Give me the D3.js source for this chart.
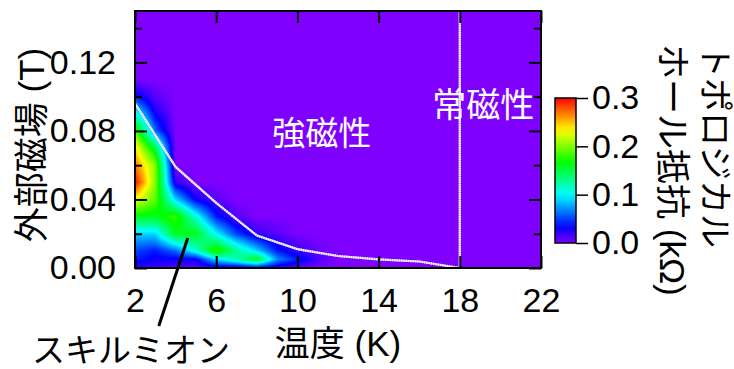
<!DOCTYPE html>
<html>
<head>
<meta charset="utf-8">
<script src="https://cdn.jsdelivr.net/npm/d3@7"></script>
<style>
  html, body { margin: 0; padding: 0; background: #fff; }
  svg text { font-family: "Liberation Sans", Arial, "Noto Sans CJK JP", sans-serif; fill: #000; }
</style>
</head>
<body>
<svg id="chart" width="734" height="369"></svg>
<script>
// temperature grid (K) and field grid (T) of the measured map
const temps = [2, 3, 4, 5, 6, 7, 8, 9, 10, 11, 12];
const fields = [0, 0.005, 0.01, 0.02, 0.03, 0.04, 0.05, 0.06, 0.07, 0.08, 0.09, 0.10, 0.11];
// topological Hall resistance (kOhm), one row per field, one column per temperature
const rhoTH = [
  [0.02, 0.02, 0.01, 0.01, 0.02, 0.02, 0.03, 0.02, 0.01, 0.00, 0],
  [0.04, 0.03, 0.03, 0.03, 0.09, 0.12, 0.16, 0.07, 0.04, 0.015, 0],
  [0.05, 0.04, 0.06, 0.11, 0.18, 0.13, 0.09, 0.04, 0.02, 0.005, 0],
  [0.09, 0.09, 0.16, 0.16, 0.10, 0.05, 0.02, 0.01, 0, 0, 0],
  [0.16, 0.16, 0.18, 0.11, 0.04, 0.01, 0, 0, 0, 0, 0],
  [0.23, 0.19, 0.09, 0.03, 0.01, 0, 0, 0, 0, 0, 0],
  [0.30, 0.20, 0.02, 0, 0, 0, 0, 0, 0, 0, 0],
  [0.27, 0.20, 0, 0, 0, 0, 0, 0, 0, 0, 0],
  [0.24, 0.15, 0, 0, 0, 0, 0, 0, 0, 0, 0],
  [0.19, 0.06, 0, 0, 0, 0, 0, 0, 0, 0, 0],
  [0.11, 0.03, 0, 0, 0, 0, 0, 0, 0, 0, 0],
  [0.04, 0.01, 0, 0, 0, 0, 0, 0, 0, 0, 0],
  [0, 0, 0, 0, 0, 0, 0, 0, 0, 0, 0]
];
// phase boundary (white dotted line)
const boundaryT = [2, 4, 6, 8, 10, 12, 14, 16, 18];
const boundaryH = [0.096, 0.059, 0.038, 0.019, 0.011, 0.007, 0.005, 0.0038, 0];
const curieT = 18;

const xTicks = [2, 6, 10, 14, 18, 22];
const yMajor = [0, 0.04, 0.08, 0.12];
const yMinor = [0.02, 0.06, 0.10, 0.14];
const cTicks = [0, 0.1, 0.2, 0.3];

const svg = d3.select('#chart');
const x = d3.scaleLinear().domain([2, 22]).range([135, 541]);
const y = d3.scaleLinear().domain([0, 0.15]).range([268, 11]);
const color = d3.scaleLinear().domain([0, 0.3])
  .range(['hsl(270,100%,50%)', 'hsl(0,100%,50%)'])
  .interpolate(d3.interpolateHslLong)
  .clamp(true);

// bilinear lookup in the grid
function valueAt(t, h) {
  if (t < temps[0] || t > temps[temps.length - 1]) return 0;
  if (h < fields[0] || h > fields[fields.length - 1]) return 0;
  const i = Math.min(d3.bisectRight(temps, t) - 1, temps.length - 2);
  const j = Math.min(d3.bisectRight(fields, h) - 1, fields.length - 2);
  const ft = (t - temps[i]) / (temps[i + 1] - temps[i]);
  const fh = (h - fields[j]) / (fields[j + 1] - fields[j]);
  const a = rhoTH[j][i], b = rhoTH[j][i + 1], c = rhoTH[j + 1][i], d = rhoTH[j + 1][i + 1];
  return (a * (1 - ft) + b * ft) * (1 - fh) + (c * (1 - ft) + d * ft) * fh;
}

const [px0, px1] = x.range();
const [py1, py0] = y.range();
const pw = px1 - px0, ph = py1 - py0;

const lut = d3.range(301).map(k => d3.rgb(color(k / 1000)));
const canvas = document.createElement('canvas');
canvas.width = pw; canvas.height = ph;
const ctx = canvas.getContext('2d');
const img = ctx.createImageData(pw, ph);
for (let r = 0; r < ph; r++) {
  const h = y.invert(py0 + r + 0.5);
  for (let c = 0; c < pw; c++) {
    const t = x.invert(px0 + c + 0.5);
    const v = Math.max(0, Math.min(0.3, valueAt(t, h)));
    const col = lut[Math.round(v * 1000)];
    const k = (r * pw + c) * 4;
    img.data[k] = col.r; img.data[k + 1] = col.g; img.data[k + 2] = col.b; img.data[k + 3] = 255;
  }
}
ctx.putImageData(img, 0, 0);

svg.append('image')
  .attr('x', px0).attr('y', py0)
  .attr('width', pw).attr('height', ph)
  .attr('preserveAspectRatio', 'none')
  .attr('href', canvas.toDataURL());

// boundary lines
const line = d3.line().x(d => x(d[0])).y(d => y(d[1]));
const boundary = boundaryT.map((t, i) => [t, boundaryH[i]]);
const curie = [[curieT, 0], [curieT, 0.15]];
[boundary, curie].forEach(pts => {
  svg.append('path').attr('d', line(pts))
    .attr('fill', 'none').attr('stroke', '#c8bde6').attr('stroke-width', 2.2);
  svg.append('path').attr('d', line(pts))
    .attr('fill', 'none').attr('stroke', '#fff').attr('stroke-width', 2.2)
    .attr('stroke-dasharray', '1.3,1');
});

// phase labels
svg.append('text').attr('x', x(11.2)).attr('y', y(0.0786))
  .attr('text-anchor', 'middle').attr('dominant-baseline', 'central')
  .style('font-size', '33px').style('fill', '#fff').text('強磁性');
svg.append('text').attr('x', x(19.15)).attr('y', y(0.0952))
  .attr('text-anchor', 'middle').attr('dominant-baseline', 'central')
  .style('font-size', '34px').style('fill', '#fff').text('常磁性');

// axes, ticks pointing inward
function styleAxis(g) {
  g.select('.domain').remove();
  g.selectAll('line').attr('stroke', '#000').attr('stroke-width', 2);
  g.selectAll('text').style('font-size', '34px').attr('fill', '#000');
}
svg.append('g').attr('transform', `translate(0,${py1})`)
  .call(d3.axisBottom(x).tickValues(xTicks).tickSize(-12).tickPadding(20))
  .call(styleAxis);
svg.append('g').attr('transform', `translate(0,${py0})`)
  .call(d3.axisTop(x).tickValues(xTicks).tickSize(-12).tickFormat(''))
  .call(styleAxis);
svg.append('g').attr('transform', `translate(${px0},0)`)
  .call(d3.axisLeft(y).tickValues(yMajor).tickSize(-12).tickPadding(19).tickFormat(d3.format('.2f')))
  .call(styleAxis);
svg.append('g').attr('transform', `translate(${px0},0)`)
  .call(d3.axisLeft(y).tickValues(yMinor).tickSize(-7).tickFormat(''))
  .call(styleAxis);
svg.append('g').attr('transform', `translate(${px1},0)`)
  .call(d3.axisRight(y).tickValues(yMajor).tickSize(-12).tickFormat(''))
  .call(styleAxis);
svg.append('g').attr('transform', `translate(${px1},0)`)
  .call(d3.axisRight(y).tickValues(yMinor).tickSize(-7).tickFormat(''))
  .call(styleAxis);

svg.append('rect').attr('x', px0).attr('y', py0).attr('width', pw).attr('height', ph)
  .attr('fill', 'none').attr('stroke', '#000').attr('stroke-width', 2);

// axis titles
svg.append('text').attr('transform', 'translate(31,145) rotate(-90)')
  .attr('text-anchor', 'middle').attr('dominant-baseline', 'central')
  .style('font-size', '35px').text('外部磁場 (T)');
svg.append('text').attr('x', (px0 + px1) / 2).attr('y', 343)
  .attr('text-anchor', 'middle').attr('dominant-baseline', 'central')
  .style('font-size', '35px').text('温度 (K)');

// skyrmion annotation
const tip = [x(4.6), y(0.0175)];
svg.append('line').attr('x1', tip[0]).attr('y1', tip[1])
  .attr('x2', tip[0] - 29).attr('y2', tip[1] + 88)
  .attr('stroke', '#000').attr('stroke-width', 3);
svg.append('text').attr('x', 131).attr('y', 350)
  .attr('text-anchor', 'middle').attr('dominant-baseline', 'central')
  .style('font-size', '33px').text('スキルミオン');

// colour bar
const cy = d3.scaleLinear().domain([0, 0.3]).range([243, 98]);
const grad = svg.append('defs').append('linearGradient')
  .attr('id', 'cbar').attr('x1', 0).attr('y1', 1).attr('x2', 0).attr('y2', 0);
d3.range(0, 1.0001, 0.05).forEach(f => {
  grad.append('stop').attr('offset', f).attr('stop-color', color(f * 0.3));
});
svg.append('rect').attr('x', 555).attr('y', 98).attr('width', 21).attr('height', 145)
  .attr('fill', 'url(#cbar)').attr('stroke', '#000').attr('stroke-width', 1.5);
svg.append('g').attr('transform', 'translate(576,0)')
  .call(d3.axisRight(cy).tickValues(cTicks).tickSize(12).tickPadding(4).tickFormat(d3.format('.1f')))
  .call(styleAxis)
  .call(g => g.selectAll('line').attr('stroke-width', 1.5));

svg.append('text').attr('transform', 'translate(715,44) rotate(90)')
  .attr('dominant-baseline', 'central').style('font-size', '34px').text('トポロジカル');
svg.append('text').attr('transform', 'translate(672,44) rotate(90)')
  .attr('dominant-baseline', 'central').style('font-size', '35px').text('ホール抵抗 (kΩ)');
</script>
</body>
</html>
